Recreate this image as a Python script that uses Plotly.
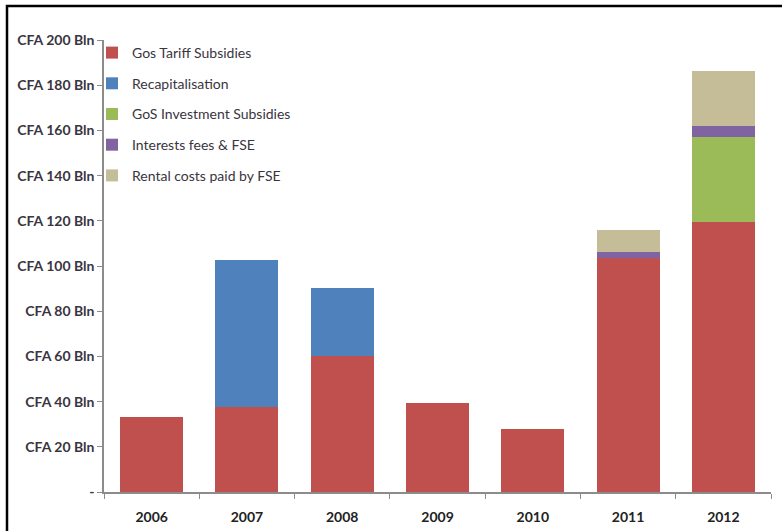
import plotly.graph_objects as go

years = ["2006", "2007", "2008", "2009", "2010", "2011", "2012"]
tariff = [33.0, 37.6, 60.0, 39.6, 28.0, 103.5, 119.3]
recap = [0, 65.1, 30.3, 0, 0, 0, 0]
invest = [0, 0, 0, 0, 0, 0, 38.0]
interest = [0, 0, 0, 0, 0, 2.5, 4.5]
rental = [0, 0, 0, 0, 0, 10.1, 24.7]

series = [
    ("Gos Tariff Subsidies", tariff, "#C0504D"),
    ("Recapitalisation", recap, "#4F81BD"),
    ("GoS Investment Subsidies", invest, "#9BBB59"),
    ("Interests fees & FSE", interest, "#8064A2"),
    ("Rental costs paid by FSE", rental, "#C4BD97"),
]

tick_vals = [0, 20, 40, 60, 80, 100, 120, 140, 160, 180, 200]
tick_text = ["-"] + [f"CFA {v} Bln" for v in tick_vals[1:]]

fig = go.Figure()
for i, (name, vals, color) in enumerate(series):
    fig.add_trace(go.Bar(
        x=years, y=vals, name=name, legendgroup=f"g{i}",
        marker=dict(color=color, line=dict(width=0)),
    ))

FONT = "Lato, 'Open Sans', sans-serif"
TXT = "#3a3540"

fig.update_layout(
    barmode="stack",
    bargap=0.34,
    width=782, height=531,
    margin=dict(l=104, r=11, t=40, b=39),
    paper_bgcolor="white",
    plot_bgcolor="white",
    font=dict(family=FONT, color=TXT),
    showlegend=True,
    legend=dict(
        x=(92 - 104) / 667, y=(492 - 37) / 452, xanchor="left", yanchor="top",
        traceorder="grouped", tracegroupgap=9.5,
        font=dict(size=14, color=TXT, family=FONT),
        bgcolor="rgba(0,0,0,0)",
        itemwidth=30,
    ),
    xaxis=dict(
        type="category",
        automargin=False,
        showline=True, linecolor="#8c8c8c", linewidth=1.5,
        ticks="outside", ticklen=5, tickcolor="#8c8c8c",
        tickson="boundaries",
        tickvals=years, ticktext=[f"<b>{y}</b>" for y in years],
        tickfont=dict(size=14, color="#222222", family=FONT),
        ticklabelstandoff=11,
        showgrid=False,
    ),
    yaxis=dict(
        range=[0, 200],
        automargin=False,
        tickvals=tick_vals, ticktext=[f"<b>{t}</b>" for t in tick_text],
        tickfont=dict(size=14, color=TXT, family=FONT),
        showline=True, linecolor="#8c8c8c", linewidth=1.5,
        ticks="outside", ticklen=5, tickcolor="#8c8c8c",
        showgrid=False, zeroline=False,
    ),
)

# outer black frame of the picture (left/top edges visible)
fig.add_shape(
    type="rect", xref="paper", yref="paper",
    x0=(7 - 104) / 667, x1=(790 - 104) / 667,
    y0=(492 - 545) / 452, y1=(492 - 6) / 452,
    line=dict(color="black", width=2.5), fillcolor="rgba(0,0,0,0)",
    layer="above",
)

fig.write_html("out.html")
